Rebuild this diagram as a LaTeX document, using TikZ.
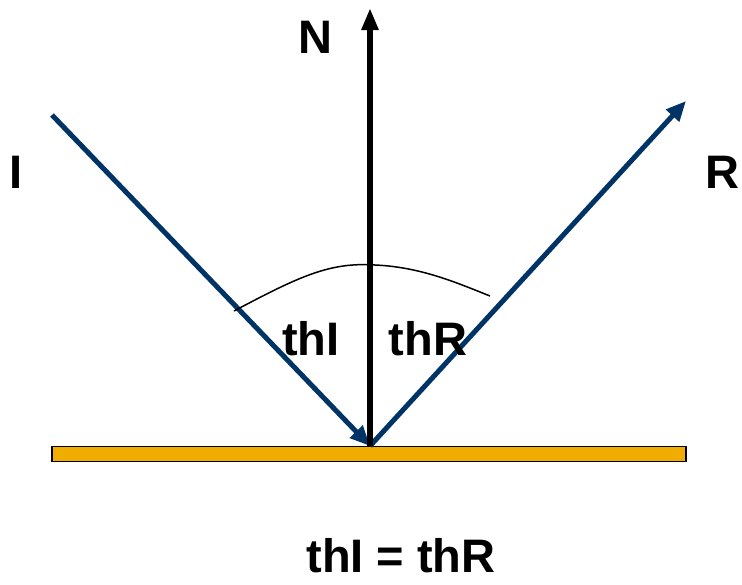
\documentclass[tikz,border=0pt]{standalone}
\usepackage{fontspec}
\setmainfont{Liberation Sans}
\usetikzlibrary{arrows.meta}
\definecolor{rayblue}{HTML}{003366}
\definecolor{mirror}{HTML}{F0AD00}
\tikzset{
  ray/.style={rayblue, line width=5pt, -{Triangle[length=20pt,width=17pt]}},
  normal/.style={black, line width=5.5pt, -{Triangle[length=22pt,width=16pt]}},
  lbl/.style={font=\fontsize{47}{50}\selectfont\bfseries, inner sep=0pt},
}
\begin{document}
\begin{tikzpicture}[x=1pt,y=-1pt]
\useasboundingbox (0,0) rectangle (742,584);
\node[draw=black, line width=1.5pt, fill=mirror, minimum width=634pt, minimum height=15pt, inner sep=0pt] (m) at (369,454) {};
\coordinate (O) at (370,446);
\coordinate (Itop) at (52,115);
\coordinate (Rtop) at (686,101);
\coordinate (Ntop) at (370,8);
\draw[ray] (Itop) -- (O);
\draw[ray] (O) -- (Rtop);
\draw[normal] (O) -- (Ntop);
\coordinate (a1) at (234,311);
\coordinate (a2) at (490,296);
\draw[line width=1.5pt] (a1) .. controls (300,276) and (330,262) .. (375,265) .. controls (420,267) and (455,282) .. (a2);
\node[lbl] (N) at (315,37) {N};
\node[lbl] (I) at (16,172) {I};
\node[lbl] (R) at (722,172) {R};
\node[lbl] (thI) at (311,339) {thI};
\node[lbl] (thR) at (428,339) {thR};
\node[lbl] (eq) at (401,556) {thI = thR};
\end{tikzpicture}
\end{document}
